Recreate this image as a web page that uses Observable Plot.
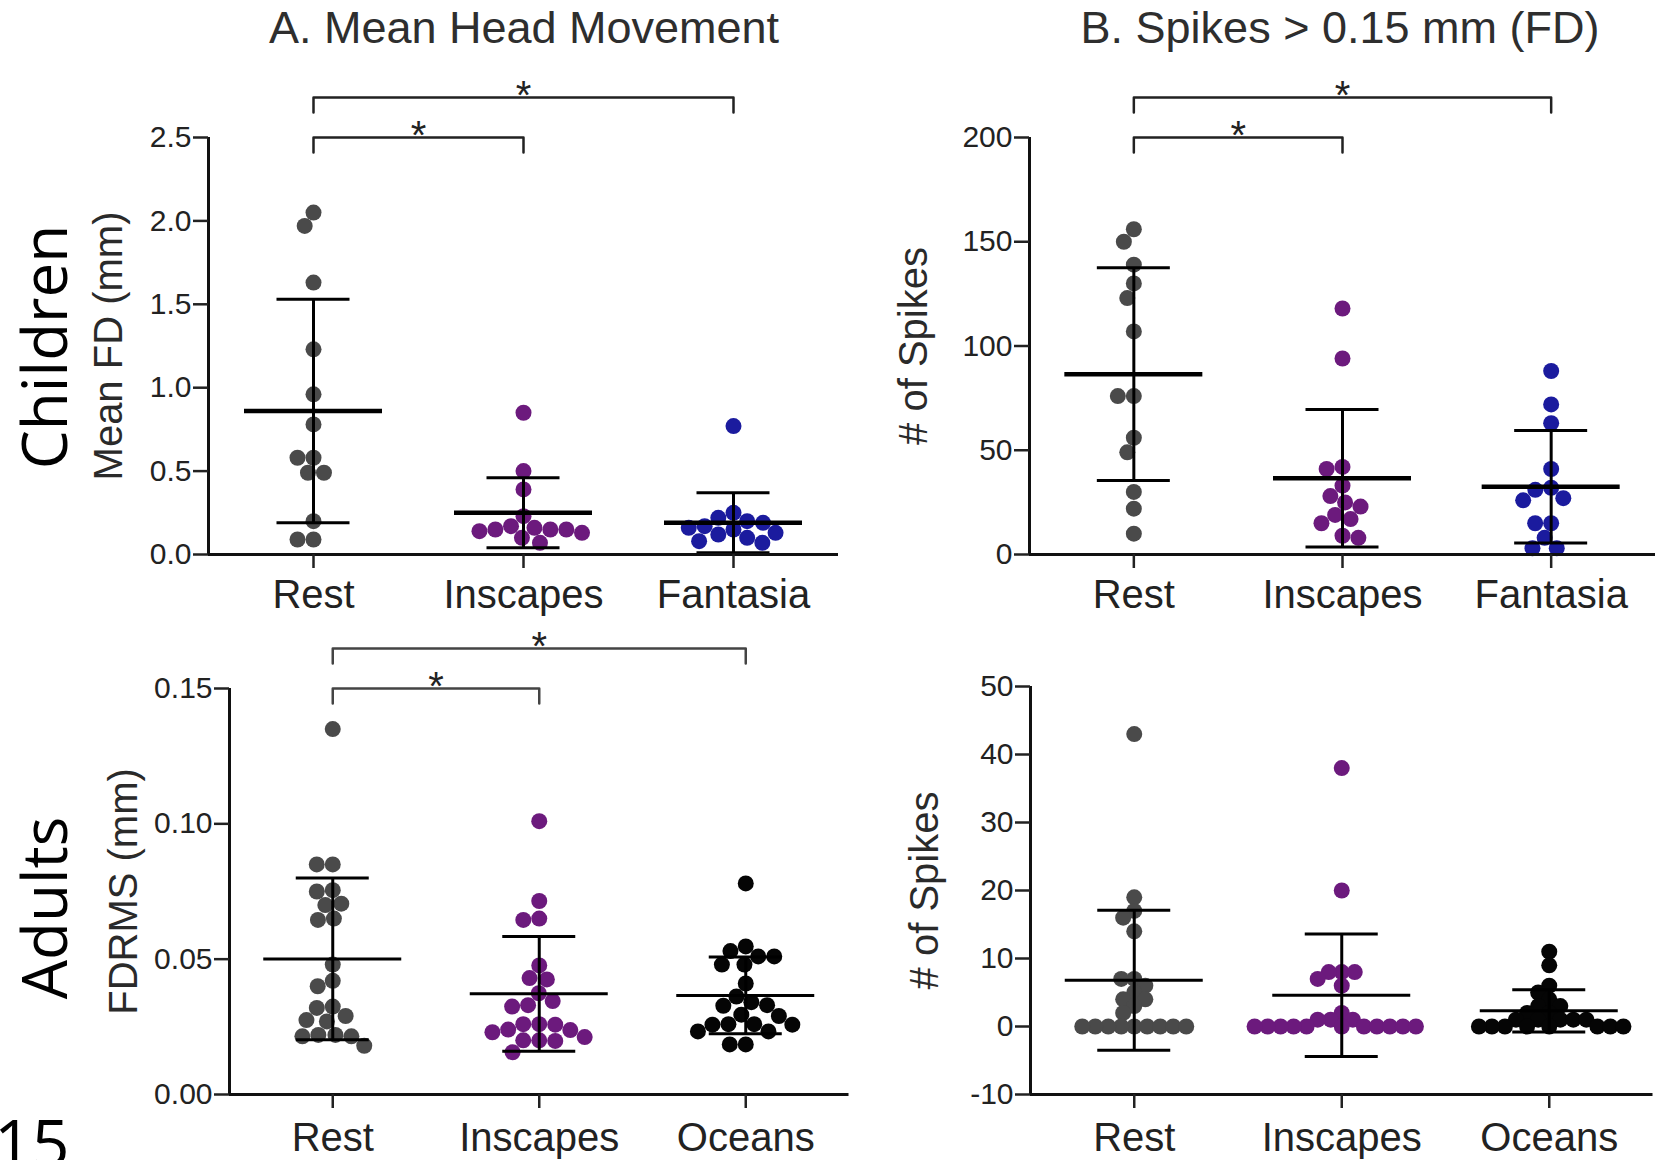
<!DOCTYPE html>
<html>
<head>
<meta charset="utf-8">
<script src="https://cdn.jsdelivr.net/npm/d3@7"></script>
<script src="https://cdn.jsdelivr.net/npm/@observablehq/plot@0.6"></script>
<style>
  body { margin: 0; background: #fff; }
  #fig { position: relative; width: 1665px; height: 1160px; overflow: hidden; background: #fff; }
  #fig > svg { position: absolute; }
</style>
</head>
<body>
<div id="fig"></div>
<script>
// ---------------- DATA ----------------
const childConditions = ["Rest", "Inscapes", "Fantasia"];
const adultConditions = ["Rest", "Inscapes", "Oceans"];
const conditionColors = {Rest: "#4a4a4a", Inscapes: "#6c1a7d", Fantasia: "#1b1b9e", Oceans: "#050505"};

// A. Mean head movement, children: mean FD (mm)
const childFD_rest     = [2.05, 1.97, 1.63, 1.23, 0.96, 0.78, 0.58, 0.58, 0.49, 0.49, 0.20, 0.09, 0.09];
const childFD_inscapes = [0.85, 0.50, 0.39, 0.23, 0.17, 0.16, 0.15, 0.15, 0.15, 0.14, 0.13, 0.10, 0.07];
const childFD_fantasia = [0.77, 0.25, 0.22, 0.20, 0.19, 0.17, 0.16, 0.15, 0.13, 0.12, 0.10, 0.08, 0.07];
const childFD_mean = [0.86, 0.25, 0.19];
const childFD_sd   = [0.67, 0.21, 0.18];
const childFD_ticks = [0, 0.5, 1.0, 1.5, 2.0, 2.5];

// B. Spikes > 0.15 mm, children: # of spikes
const childSpikes_rest     = [156, 150, 139, 130, 123, 107, 76, 76, 56, 49, 30, 22, 10];
const childSpikes_inscapes = [118, 94, 42, 41, 33, 28, 25, 23, 19, 17, 15, 9, 8];
const childSpikes_fantasia = [88, 72, 63, 41, 32, 31, 27, 26, 15, 15, 8, 3, 3];
const childSpikes_mean = [86.5, 36.6, 32.5];
const childSpikes_sd   = [51, 33, 27];
const childSpikes_ticks = [0, 50, 100, 150, 200];

// Adults: FDRMS (mm)
const adultFDRMS_rest     = [0.135, 0.085, 0.085, 0.0755, 0.075, 0.0705, 0.070, 0.065, 0.0645, 0.048, 0.042, 0.040, 0.0325, 0.032, 0.029, 0.0275, 0.027, 0.022, 0.022, 0.0215, 0.0215, 0.018];
const adultFDRMS_inscapes = [0.101, 0.0715, 0.065, 0.0645, 0.0477, 0.043, 0.0425, 0.0374, 0.0345, 0.033, 0.0325, 0.026, 0.026, 0.0258, 0.024, 0.0238, 0.023, 0.0212, 0.020, 0.020, 0.0198, 0.0156];
const adultFDRMS_oceans   = [0.078, 0.0547, 0.053, 0.051, 0.051, 0.048, 0.048, 0.041, 0.0362, 0.0341, 0.033, 0.0328, 0.0295, 0.029, 0.026, 0.026, 0.0258, 0.0258, 0.0233, 0.0233, 0.0185, 0.0185];
const adultFDRMS_mean = [0.0501, 0.0372, 0.0366];
const adultFDRMS_sd   = [0.0299, 0.0212, 0.0142];
const adultFDRMS_ticks = [0, 0.05, 0.10, 0.15];

// Adults: # of spikes
const adultSpikes_rest     = [43, 19, 17, 16, 14, 7, 7, 6, 5, 4, 4, 3, 2, 0, 0, 0, 0, 0, 0, 0, 0, 0];
const adultSpikes_inscapes = [38, 20, 8, 8, 8, 7, 6, 2, 1, 1, 1, 0, 0, 0, 0, 0, 0, 0, 0, 0, 0, 0];
const adultSpikes_oceans   = [11, 9, 6, 5, 4, 3, 3, 2, 2, 1, 1, 1, 1, 1, 0, 0, 0, 0, 0, 0, 0, 0];
const adultSpikes_mean = [6.8, 4.6, 2.3];
const adultSpikes_sd   = [10.3, 9.0, 3.1];
const adultSpikes_ticks = [-10, 0, 10, 20, 30, 40, 50];

// significance brackets
const childBrackets = [{from: "Rest", to: "Inscapes", label: "*"}, {from: "Rest", to: "Fantasia", label: "*"}];
const adultFDBrackets = [{from: "Rest", to: "Inscapes", label: "*"}, {from: "Rest", to: "Oceans", label: "*"}];

// ---------------- LAYOUT HELPERS ----------------
const FONT = '"Liberation Sans", Arial, Helvetica, sans-serif';

// beeswarm offsets (pixels) for points at pixel heights ys
function swarm(ys, d) {
  const placed = [];
  return ys.map((y) => {
    const cands = [0];
    for (const p of placed) {
      const dy = Math.abs(p.y - y);
      if (dy < d) { const w = Math.sqrt(d * d - dy * dy); cands.push(p.x + w, p.x - w); }
    }
    cands.sort((a, b) => Math.abs(a) - Math.abs(b) || a - b);
    let best = 0;
    for (const c of cands) {
      if (placed.every(p => (p.x - c) ** 2 + (p.y - y) ** 2 >= d * d - 1e-6)) { best = c; break; }
    }
    placed.push({x: best, y});
    return best;
  });
}

function panel(cfg) {
  const {box, frame, cats, groups, means, sds, yDomain, yTicks, yFormat, yLabel, yLabelX,
         brackets = [], spacing, meanStroke, xTickPadding, bracketColor} = cfg;
  const step = (frame.x1 - frame.x0) / cats.length;
  const ppu = (frame.y1 - frame.y0) / (yDomain[1] - yDomain[0]);
  const dx = p => p / step, dy = p => p / ppu;

  const dotMarks = groups.map((vals, i) => {
    const offs = swarm(vals.map(v => -v * ppu), spacing);
    const pts = vals.map((v, k) => ({x: i + dx(offs[k]), y: v}));
    return Plot.dot(pts, {x: "x", y: "y", r: 8, fill: conditionColors[cats[i]], stroke: null});
  });

  const summary = means.map((m, i) => ({i, mean: m, lo: m - sds[i], hi: m + sds[i]}));
  const capHalf = dx(36.5), meanHalf = dx(69);

  const bpts = brackets.flatMap((b, j) => {
    const top = yDomain[1] + dy(j * 40), foot = top - dy(15);
    const a = cats.indexOf(b.from), c = cats.indexOf(b.to);
    return [{id: j, x: a, y: foot}, {id: j, x: a, y: top}, {id: j, x: c, y: top}, {id: j, x: c, y: foot}];
  });
  const blabels = brackets.map((b, j) => ({x: (cats.indexOf(b.from) + cats.indexOf(b.to)) / 2, y: yDomain[1] + dy(j * 40), label: b.label}));

  const svg = Plot.plot({
    width: box.w, height: box.h,
    marginLeft: frame.x0 - box.x, marginRight: box.x + box.w - frame.x1,
    marginTop: frame.y0 - box.y, marginBottom: box.y + box.h - frame.y1,
    x: {domain: [-0.5, cats.length - 0.5], label: null},
    y: {domain: yDomain, label: null},
    style: {background: "transparent", fontFamily: FONT, color: "#222"},
    marks: [
      Plot.line(bpts, {x: "x", y: "y", z: "id", stroke: bracketColor, strokeWidth: 2.5}),
      Plot.text(blabels, {x: "x", y: "y", text: "label", fontSize: 40, fontFamily: FONT, lineAnchor: "bottom", dy: 11, fill: "#222"}),
      ...dotMarks,
      Plot.ruleX(summary, {x: "i", y1: "lo", y2: "hi", stroke: "#000", strokeWidth: 3}),
      Plot.ruleY(summary, {y: "hi", x1: d => d.i - capHalf, x2: d => d.i + capHalf, stroke: "#000", strokeWidth: 3}),
      Plot.ruleY(summary, {y: "lo", x1: d => d.i - capHalf, x2: d => d.i + capHalf, stroke: "#000", strokeWidth: 3}),
      Plot.ruleY(summary, {y: "mean", x1: d => d.i - meanHalf, x2: d => d.i + meanHalf, stroke: "#000", strokeWidth: meanStroke}),
      Plot.ruleY([yDomain[0]], {x1: -0.5, x2: cats.length - 0.5, stroke: "#111", strokeWidth: 3}),
      Plot.ruleX([-0.5], {y1: yDomain[0], y2: yDomain[1], stroke: "#111", strokeWidth: 3}),
      Plot.axisY({ticks: yTicks, tickFormat: yFormat, tickSize: 15, tickPadding: 2, fontSize: 30, fontFamily: FONT, strokeWidth: 2.5, color: "#222", label: null}),
      Plot.axisX({ticks: d3.range(cats.length), tickFormat: i => cats[i], tickSize: 14, tickPadding: xTickPadding, fontSize: 40, fontFamily: FONT, strokeWidth: 2.5, color: "#222", label: null}),
      Plot.text([yLabel], {text: d => d, frameAnchor: "left", textAnchor: "middle", rotate: -90, dx: yLabelX - frame.x0, lineAnchor: "bottom", fontSize: 40, fontFamily: FONT, fill: "#2a2a2a"})
    ]
  });
  svg.style.position = "absolute";
  svg.style.left = box.x + "px";
  svg.style.top = box.y + "px";
  svg.style.maxWidth = "none";
  return svg;
}

const fig = document.getElementById("fig");

fig.append(panel({
  box: {x: 0, y: 0, w: 845, h: 622}, frame: {x0: 208, x1: 838, y0: 137, y1: 554},
  cats: childConditions, groups: [childFD_rest, childFD_inscapes, childFD_fantasia],
  means: childFD_mean, sds: childFD_sd, yDomain: [0, 2.5], yTicks: childFD_ticks, yFormat: d3.format(".1f"),
  yLabel: "Mean FD (mm)", yLabelX: 121, brackets: childBrackets, spacing: 16, meanStroke: 4.5, xTickPadding: 11, bracketColor: "#222"
}));

fig.append(panel({
  box: {x: 845, y: 0, w: 820, h: 622}, frame: {x0: 1029, x1: 1655, y0: 137, y1: 554},
  cats: childConditions, groups: [childSpikes_rest, childSpikes_inscapes, childSpikes_fantasia],
  means: childSpikes_mean, sds: childSpikes_sd, yDomain: [0, 200], yTicks: childSpikes_ticks, yFormat: d => String(d),
  yLabel: "# of Spikes", yLabelX: 926, brackets: childBrackets, spacing: 16, meanStroke: 4.5, xTickPadding: 11, bracketColor: "#222"
}));

fig.append(panel({
  box: {x: 0, y: 622, w: 855, h: 538}, frame: {x0: 229, x1: 848.5, y0: 688, y1: 1094},
  cats: adultConditions, groups: [adultFDRMS_rest, adultFDRMS_inscapes, adultFDRMS_oceans],
  means: adultFDRMS_mean, sds: adultFDRMS_sd, yDomain: [0, 0.15], yTicks: adultFDRMS_ticks, yFormat: d3.format(".2f"),
  yLabel: "FDRMS (mm)", yLabelX: 136, brackets: adultFDBrackets, spacing: 16, meanStroke: 3, xTickPadding: 14, bracketColor: "#444"
}));

fig.append(panel({
  box: {x: 855, y: 622, w: 810, h: 538}, frame: {x0: 1030, x1: 1652.5, y0: 686, y1: 1094},
  cats: adultConditions, groups: [adultSpikes_rest, adultSpikes_inscapes, adultSpikes_oceans],
  means: adultSpikes_mean, sds: adultSpikes_sd, yDomain: [-10, 50], yTicks: adultSpikes_ticks, yFormat: d => String(d),
  yLabel: "# of Spikes", yLabelX: 937, brackets: [], spacing: 13, meanStroke: 3, xTickPadding: 14, bracketColor: "#444"
}));

// ---------------- Overlay: titles and row labels ----------------
const NS = "http://www.w3.org/2000/svg";
const overlay = document.createElementNS(NS, "svg");
overlay.setAttribute("width", 1665); overlay.setAttribute("height", 1160);
overlay.style.left = "0px"; overlay.style.top = "0px"; overlay.style.pointerEvents = "none";
function addText(str, attrs) {
  const t = document.createElementNS(NS, "text");
  for (const k in attrs) t.setAttribute(k, attrs[k]);
  t.textContent = str;
  overlay.append(t);
}
addText("A. Mean Head Movement", {x: 524, y: 43, "text-anchor": "middle", "font-family": FONT, "font-size": 45, fill: "#2e2e2e"});
addText("B. Spikes > 0.15 mm (FD)", {x: 1340, y: 43, "text-anchor": "middle", "font-family": FONT, "font-size": 45, fill: "#2e2e2e"});
addText("Children", {transform: "translate(67,347) rotate(-90)", "text-anchor": "middle", "font-family": '"Open Sans", sans-serif', "font-size": 62, fill: "#000"});
addText("Adults", {transform: "translate(67,908) rotate(-90)", "text-anchor": "middle", "font-family": '"Open Sans", sans-serif', "font-size": 62, fill: "#000"});
addText("15", {x: -6, y: 1167, "font-family": '"Open Sans", sans-serif', "font-size": 66, fill: "#000"});
fig.append(overlay);
</script>
</body>
</html>
